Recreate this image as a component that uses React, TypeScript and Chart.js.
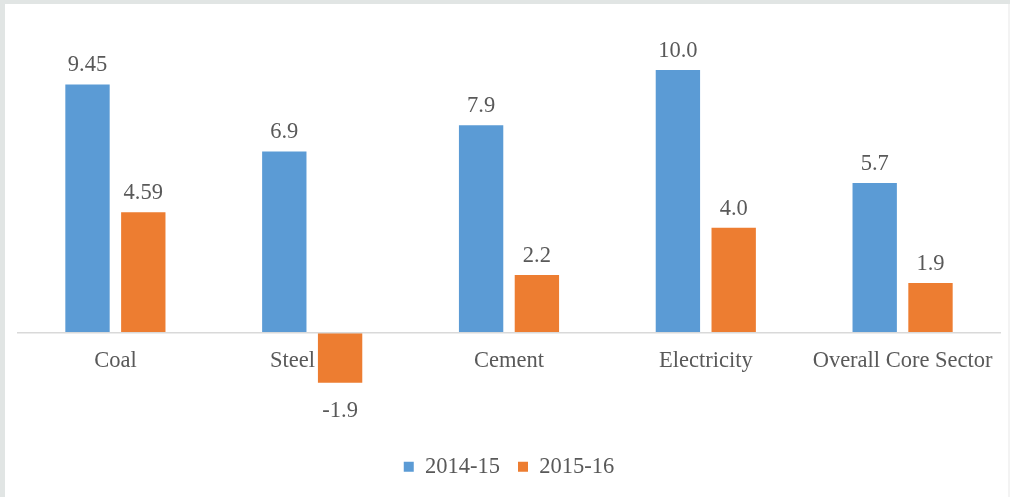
import React, { useEffect, useRef } from "react";
import { Chart, registerables } from "chart.js";

Chart.register(...registerables);

const categories = ["Coal", "Steel", "Cement", "Electricity", "Overall Core Sector"];
const series2014 = [9.45, 6.9, 7.9, 10.0, 5.7];
const series2015 = [4.59, -1.9, 2.2, 4.0, 1.9];
const labels2014 = ["9.45", "6.9", "7.9", "10.0", "5.7"];
const labels2015 = ["4.59", "-1.9", "2.2", "4.0", "1.9"];
const seriesNames = ["2014-15", "2015-16"];

const FONT = "'Liberation Serif', 'DejaVu Serif', serif";
const TEXT = "#595959";
const FSIZE = 22.5;

const overlayPlugin = {
  id: "overlay",
  afterDatasetsDraw(chart: any) {
    const { ctx, chartArea, scales } = chart;
    const y = scales.y;
    const x = scales.x;
    const zero = y.getPixelForValue(0);
    ctx.save();
    // zero line
    ctx.strokeStyle = "#d9d9d9";
    ctx.lineWidth = 1.5;
    ctx.beginPath();
    ctx.moveTo(chartArea.left, zero);
    ctx.lineTo(chartArea.right, zero);
    ctx.stroke();

    ctx.font = `${FSIZE}px ${FONT}`;
    ctx.fillStyle = TEXT;
    // data labels
    const texts = [labels2014, labels2015];
    chart.data.datasets.forEach((ds: any, di: number) => {
      const meta = chart.getDatasetMeta(di);
      meta.data.forEach((bar: any, i: number) => {
        const v = ds.data[i];
        ctx.textAlign = "center";
        ctx.textBaseline = "alphabetic";
        if (v >= 0) {
          ctx.fillText(texts[di][i], bar.x, bar.y - 13);
        } else {
          ctx.fillText(texts[di][i], bar.x, bar.y + 34);
        }
      });
    });

    // category labels
    const m1 = chart.getDatasetMeta(1);
    const m0 = chart.getDatasetMeta(0);
    categories.forEach((c, i) => {
      const cx = x.getPixelForValue(i);
      const w = ctx.measureText(c).width;
      let left = cx - w / 2;
      const b1 = m1.data[i];
      if (chart.data.datasets[1].data[i] < 0) {
        const barLeft = b1.x - b1.width / 2;
        if (left + w > barLeft - 3) left = barLeft - 3 - w;
      }
      const b0 = m0.data[i];
      if (chart.data.datasets[0].data[i] < 0) {
        const barRight = b0.x + b0.width / 2;
        if (left < barRight + 3) left = barRight + 3;
      }
      ctx.textAlign = "left";
      ctx.textBaseline = "alphabetic";
      ctx.fillText(c, left, zero + 34);
    });
    ctx.restore();
  },
};

export default function App() {
  const ref = useRef<HTMLCanvasElement | null>(null);
  useEffect(() => {
    if (!ref.current) return;
    const chart = new Chart(ref.current, {
      type: "bar",
      data: {
        labels: categories,
        datasets: [
          {
            label: seriesNames[0],
            data: series2014,
            backgroundColor: "#5B9BD5",
            categoryPercentage: 0.567,
            barPercentage: 0.795,
          },
          {
            label: seriesNames[1],
            data: series2015,
            backgroundColor: "#ED7D31",
            categoryPercentage: 0.567,
            barPercentage: 0.795,
          },
        ],
      },
      options: {
        animation: false,
        responsive: false,
        maintainAspectRatio: false,
        layout: { padding: { left: 12, right: 7, top: 13.4, bottom: 9 } },
        scales: {
          x: { display: false },
          y: { display: false, min: -3.98, max: 12 },
        },
        plugins: {
          tooltip: { enabled: false },
          legend: {
            position: "bottom",
            labels: {
              boxWidth: 10,
              boxHeight: 10,
              color: TEXT,
              font: { family: FONT, size: FSIZE },
              padding: 18,
            },
          },
        },
      },
      plugins: [overlayPlugin],
    });
    return () => chart.destroy();
  }, []);

  return (
    <div
      style={{
        position: "absolute",
        left: 0,
        top: 0,
        width: 1010,
        height: 497,
        background: "#e1e5e4",
        overflow: "hidden",
      }}
    >
      <div
        style={{
          position: "absolute",
          left: 5,
          top: 4,
          width: 1003,
          height: 493,
          background: "#ffffff",
        }}
      >
        <canvas ref={ref} width={1003} height={493} style={{ display: "block" }} />
      </div>
      <div
        style={{
          position: "absolute",
          left: 1008,
          top: 4,
          width: 2,
          height: 493,
          background: "#f3f3f3",
        }}
      />
    </div>
  );
}
